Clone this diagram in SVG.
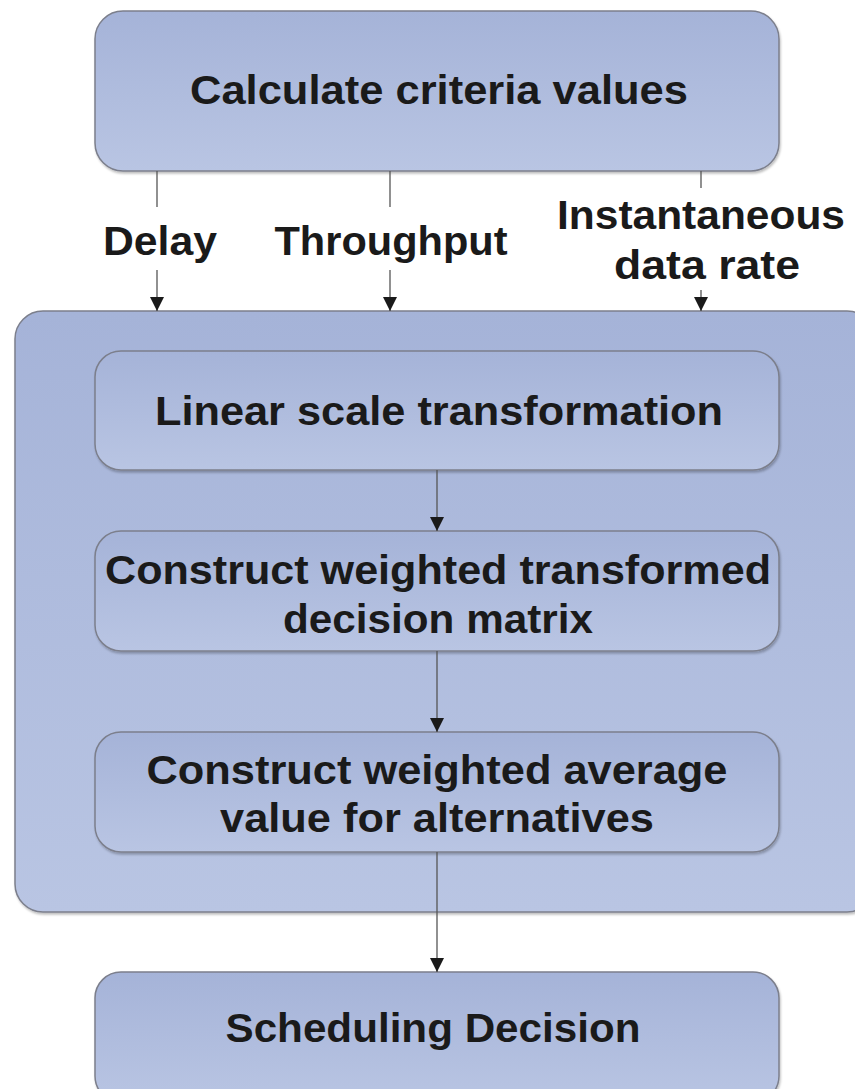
<svg xmlns="http://www.w3.org/2000/svg" width="855" height="1089" viewBox="0 0 855 1089">
<defs>
<linearGradient id="g" x1="0" y1="0" x2="0" y2="1">
<stop offset="0" stop-color="#a5b3d8"/>
<stop offset="1" stop-color="#b9c5e3"/>
</linearGradient>
<marker id="ah" markerWidth="16" markerHeight="16" refX="14" refY="7" orient="auto" markerUnits="userSpaceOnUse">
<path d="M0,0 L14,7 L0,14 Z" fill="#1a1a1a"/>
</marker>
<filter id="sh" x="-5%" y="-5%" width="110%" height="115%">
<feDropShadow dx="1" dy="2" stdDeviation="1" flood-color="#000" flood-opacity="0.25"/>
</filter>
</defs>
<style>
.box{fill:url(#g);stroke:#7c7f8c;stroke-width:1.5;filter:url(#sh)}
.t{font-family:"Liberation Sans",Arial,sans-serif;font-weight:bold;font-size:41px;fill:#1a1a1a;text-anchor:middle}
.c{stroke:#555;stroke-width:1.3;fill:none;marker-end:url(#ah)}
.l{stroke:#555;stroke-width:1.3;fill:none}
</style>
<rect width="855" height="1089" fill="#fff"/>
<g id="container"><rect class="box" x="15" y="311" width="860" height="601" rx="28"/></g>
<g id="calc"><rect class="box" x="95" y="11" width="684" height="160" rx="28"/><text class="t" x="439" y="104" textLength="498" lengthAdjust="spacingAndGlyphs">Calculate criteria values</text></g>
<g id="linear"><rect class="box" x="95" y="351" width="684" height="119" rx="26"/><text class="t" x="439" y="425" textLength="568" lengthAdjust="spacingAndGlyphs">Linear scale transformation</text></g>
<g id="weighted"><rect class="box" x="95" y="531" width="684" height="120" rx="26"/><text class="t" x="438" y="584" textLength="666" lengthAdjust="spacingAndGlyphs">Construct weighted transformed</text><text class="t" x="438" y="633" textLength="310" lengthAdjust="spacingAndGlyphs">decision matrix</text></g>
<g id="average"><rect class="box" x="95" y="732" width="684" height="120" rx="26"/><text class="t" x="437" y="784" textLength="581" lengthAdjust="spacingAndGlyphs">Construct weighted average</text><text class="t" x="437" y="832" textLength="434" lengthAdjust="spacingAndGlyphs">value for alternatives</text></g>
<g id="decision"><rect class="box" x="95" y="972" width="684" height="130" rx="26"/><text class="t" x="433" y="1042" textLength="415" lengthAdjust="spacingAndGlyphs">Scheduling Decision</text></g>
<g id="labels">
<text class="t" x="160" y="255" textLength="114" lengthAdjust="spacingAndGlyphs">Delay</text>
<text class="t" x="391" y="255" textLength="233" lengthAdjust="spacingAndGlyphs">Throughput</text>
<text class="t" x="701" y="229" textLength="288" lengthAdjust="spacingAndGlyphs">Instantaneous</text>
<text class="t" x="707" y="279" textLength="186" lengthAdjust="spacingAndGlyphs">data rate</text>
</g>
<g id="connectors">
<path class="l" d="M157,171 V207"/><path class="c" d="M157,270 V311"/>
<path class="l" d="M390,171 V207"/><path class="c" d="M390,270 V311"/>
<path class="l" d="M701,171 V188"/><path class="c" d="M701,290 V311"/>
<path class="c" d="M437,470 V531"/>
<path class="c" d="M437,651 V732"/>
<path class="c" d="M437,852 V972"/>
</g>
</svg>
